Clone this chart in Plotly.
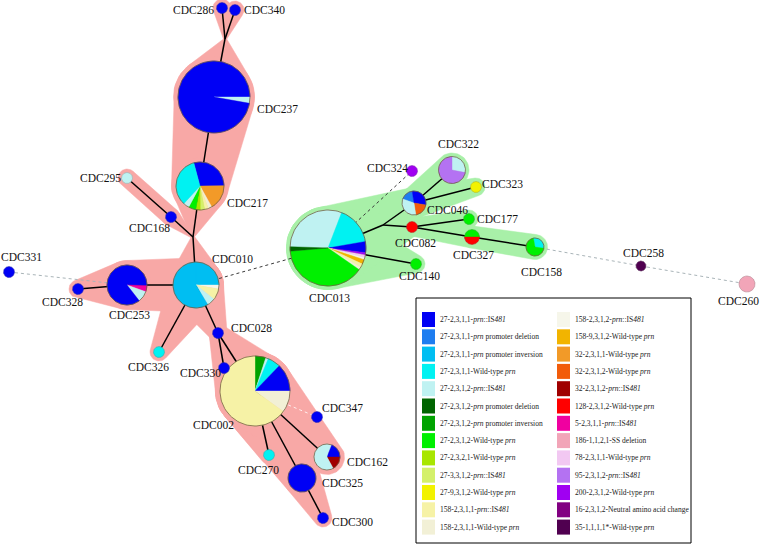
import math
import plotly.graph_objects as go

# ---------------- data ----------------
categories = [
    "27-2,3,1,1-<i>prn</i>::IS<i>481</i>",
    "27-2,3,1,1-<i>prn</i> promoter deletion",
    "27-2,3,1,1-<i>prn</i> promoter inversion",
    "27-2,3,1,1-Wild-type <i>prn</i>",
    "27-2,3,1,2-<i>prn</i>::IS<i>481</i>",
    "27-2,3,1,2-<i>prn</i> promoter deletion",
    "27-2,3,1,2-<i>prn</i> promoter inversion",
    "27-2,3,1,2-Wild-type <i>prn</i>",
    "27-2,3,2,1-Wild-type <i>prn</i>",
    "27-3,3,1,2-<i>prn</i>::IS<i>481</i>",
    "27-9,3,1,2-Wild-type <i>prn</i>",
    "158-2,3,1,1-<i>prn</i>::IS<i>481</i>",
    "158-2,3,1,1-Wild-type <i>prn</i>",
    "158-2,3,1,2-<i>prn</i>::IS<i>481</i>",
    "158-9,3,1,2-Wild-type <i>prn</i>",
    "32-2,3,1,1-Wild-type <i>prn</i>",
    "32-2,3,1,2-Wild-type <i>prn</i>",
    "32-2,3,1,2-<i>prn</i>::IS<i>481</i>",
    "128-2,3,1,2-Wild-type <i>prn</i>",
    "5-2,3,1,1-<i>prn</i>::IS<i>481</i>",
    "186-1,1,2,1-SS deletion",
    "78-2,3,1,1-Wild-type <i>prn</i>",
    "95-2,3,1,2-<i>prn</i>::IS<i>481</i>",
    "200-2,3,1,2-Wild-type <i>prn</i>",
    "16-2,3,1,2-Neutral amino acid change",
    "35-1,1,1,1*-Wild-type <i>prn</i>",
]

# node composition: (category index, share) clockwise from the start angle
node_comp = {
    "CDC286": [(0, 1.0)],
    "CDC340": [(0, 1.0)],
    "CDC237": [(0, 0.25), (4, 0.028), (0, 0.722)],
    "CDC217": [(0, 0.29), (15, 0.17), (12, 0.025), (11, 0.025), (9, 0.03),
               (8, 0.03), (7, 0.05), (4, 0.04), (3, 0.34)],
    "CDC295": [(4, 1.0)],
    "CDC168": [(0, 1.0)],
    "CDC010": [(2, 0.25), (13, 0.028), (11, 0.078), (4, 0.058), (2, 0.586)],
    "CDC331": [(0, 1.0)],
    "CDC328": [(0, 1.0)],
    "CDC253": [(0, 0.255), (19, 0.05), (4, 0.09), (0, 0.605)],
    "CDC326": [(3, 1.0)],
    "CDC028": [(0, 1.0)],
    "CDC330": [(0, 1.0)],
    "CDC002": [(6, 0.05), (4, 0.012), (3, 0.06), (0, 0.128), (12, 0.10), (11, 0.65)],
    "CDC347": [(0, 1.0)],
    "CDC162": [(4, 0.06), (0, 0.19), (17, 0.17), (4, 0.58)],
    "CDC270": [(3, 1.0)],
    "CDC325": [(0, 1.0)],
    "CDC300": [(0, 1.0)],
    "CDC013": [(4, 0.303), (3, 0.164), (0, 0.047), (23, 0.01), (21, 0.012),
               (13, 0.008), (14, 0.02), (11, 0.015), (12, 0.012), (7, 0.39), (5, 0.019)],
    "CDC324": [(23, 1.0)],
    "CDC322": [(4, 0.28), (22, 0.72)],
    "CDC323": [(10, 1.0)],
    "CDC046": [(1, 0.17), (0, 0.30), (16, 0.20), (4, 0.33)],
    "CDC082": [(18, 1.0)],
    "CDC177": [(7, 1.0)],
    "CDC327": [(7, 0.5), (18, 0.5)],
    "CDC158": [(3, 0.3), (7, 0.7)],
    "CDC140": [(7, 1.0)],
    "CDC258": [(25, 1.0)],
    "CDC260": [(20, 1.0)],
}

# tree edges
solid_edges = [
    ("J1", "CDC286"), ("J1", "CDC340"), ("J1", "CDC237"), ("CDC237", "CDC217"),
    ("CDC217", "J2"), ("CDC295", "CDC168"), ("CDC168", "J2"), ("J2", "CDC010"),
    ("CDC010", "CDC253"), ("CDC253", "CDC328"), ("CDC010", "CDC326"),
    ("CDC010", "CDC028"), ("CDC028", "CDC330"), ("CDC028", "CDC002"),
    ("CDC002", "CDC270"), ("CDC002", "CDC325"), ("CDC325", "CDC300"),
    ("CDC002", "CDC162"),
    ("CDC013", "J3"), ("J3", "CDC046"), ("CDC046", "CDC322"), ("CDC046", "CDC323"),
    ("J3", "CDC082"), ("CDC082", "CDC177"), ("CDC082", "CDC327"),
    ("CDC327", "CDC158"), ("CDC013", "CDC140"),
]
dark_dotted_edges = [("CDC010", "CDC013"), ("CDC013", "CDC324")]
light_dotted_edges = [("CDC331", "CDC253"), ("CDC158", "CDC258"), ("CDC258", "CDC260")]
faint_edges = [("CDC002", "CDC347")]

# cluster shading (pairs of nodes whose hull is filled)
pink_pairs = solid_edges[:18]
green_pairs = solid_edges[18:] + [("CDC013", "CDC046"), ("CDC013", "CDC082")]

# ---------------- layout of the tree (pixel space) ----------------
node_pos = {
    "CDC286": (222, 8, 5.5), "CDC340": (235, 10, 5.5), "CDC237": (214, 97, 36),
    "CDC217": (200, 186, 24), "CDC295": (127, 178, 5.5), "CDC168": (171, 217, 5.5),
    "CDC010": (196, 285, 23), "CDC331": (9, 272, 5.5), "CDC328": (78, 289, 5.5),
    "CDC253": (127, 285, 20), "CDC326": (159, 352, 5.5), "CDC028": (218, 333, 5.5),
    "CDC330": (224, 368, 5.5), "CDC002": (255, 391, 35), "CDC347": (317, 417, 5.5),
    "CDC162": (327, 457, 13), "CDC270": (269, 455, 5.5), "CDC325": (302, 478, 14),
    "CDC300": (323, 518, 5.5), "CDC013": (328, 248, 38), "CDC324": (412, 171, 5.5),
    "CDC322": (452, 170, 13.5), "CDC323": (476, 187, 5.5), "CDC046": (414, 203, 12),
    "CDC082": (412, 227, 5.5), "CDC177": (469, 219, 5.5), "CDC327": (472, 237, 7.5),
    "CDC158": (535, 247, 9), "CDC140": (416, 264, 5.5), "CDC258": (641, 266, 5),
    "CDC260": (747, 284, 8),
    "J1": (225, 39, 0), "J2": (193, 237, 0), "J3": (383, 225, 0),
}
start_angle = {"CDC217": -15, "CDC013": -88, "CDC046": -70, "CDC327": -90, "CDC158": -10}
hull_pad_junction = {"J1": 1.5, "J2": 1.5, "J3": 6}

label_pos = {
    "CDC286": (193, 10), "CDC340": (264, 10), "CDC237": (277, 109), "CDC217": (247, 203),
    "CDC295": (100, 178), "CDC168": (149, 228), "CDC331": (21, 257), "CDC328": (62, 302),
    "CDC253": (129, 315), "CDC010": (232, 259), "CDC326": (148, 367), "CDC028": (251, 328),
    "CDC330": (200, 373), "CDC002": (213, 425), "CDC347": (342, 408), "CDC162": (367, 462),
    "CDC270": (258, 470), "CDC325": (342, 483), "CDC300": (352, 522), "CDC013": (329, 298),
    "CDC324": (387, 168), "CDC322": (458, 144), "CDC323": (502, 184), "CDC046": (447, 210),
    "CDC082": (415, 243), "CDC177": (497, 219), "CDC327": (473, 255), "CDC158": (541, 272),
    "CDC140": (419, 276), "CDC258": (643, 253), "CDC260": (738, 301),
}

cat_colors = [
    "#0000F5", "#1E7DF0", "#00BEF2", "#00F2F2", "#BFF2F2", "#006400", "#00A300",
    "#00F000", "#A8E600", "#D4F06A", "#F2F200", "#F6F2A6", "#F2F0D6", "#F6F6EA",
    "#F2B400", "#F29A28", "#F25C0A", "#A00000", "#FF0000", "#F000A0", "#F2A5B8",
    "#F2C8F2", "#B472F2", "#A000F2", "#820082", "#500050",
]
PINK = "#F8A8A6"
GREEN = "#A8F0A8"
FONT = "Liberation Serif, Times New Roman, serif"

# ---------------- helpers ----------------
def circle_pts(cx, cy, r, n=60):
    return [(cx + r * math.cos(2 * math.pi * i / n), cy + r * math.sin(2 * math.pi * i / n))
            for i in range(n)]

def convex_hull(pts):
    pts = sorted(set(pts))
    def cross(o, a, b):
        return (a[0] - o[0]) * (b[1] - o[1]) - (a[1] - o[1]) * (b[0] - o[0])
    lower, upper = [], []
    for p in pts:
        while len(lower) >= 2 and cross(lower[-2], lower[-1], p) <= 0:
            lower.pop()
        lower.append(p)
    for p in reversed(pts):
        while len(upper) >= 2 and cross(upper[-2], upper[-1], p) <= 0:
            upper.pop()
        upper.append(p)
    return lower[:-1] + upper[:-1]

def hull_radius(n, big_pad):
    if n in hull_pad_junction:
        return hull_pad_junction[n]
    r = node_pos[n][2]
    return r + big_pad if r > 8 else r + 3.5

fig = go.Figure()

# hulls
for group, col, pad in ((pink_pairs, PINK, 4.5), (green_pairs, GREEN, 3.5)):
    for a, b in group:
        ax, ay, _ = node_pos[a]
        bx, by, _ = node_pos[b]
        pts = (circle_pts(ax, ay, hull_radius(a, pad)) +
               circle_pts(bx, by, hull_radius(b, pad)))
        h = convex_hull(pts)
        xs = [p[0] for p in h] + [h[0][0]]
        ys = [p[1] for p in h] + [h[0][1]]
        fig.add_trace(go.Scatter(x=xs, y=ys, mode="lines", fill="toself", fillcolor=col,
                                 line=dict(color=col, width=0.5), hoverinfo="skip"))

def add_edges(edges, color, width, dash):
    xs, ys = [], []
    for a, b in edges:
        xs += [node_pos[a][0], node_pos[b][0], None]
        ys += [node_pos[a][1], node_pos[b][1], None]
    fig.add_trace(go.Scatter(x=xs, y=ys, mode="lines", hoverinfo="skip",
                             line=dict(color=color, width=width, dash=dash)))

add_edges(light_dotted_edges, "#A9B4B8", 1, "dot")
add_edges(faint_edges, "rgba(255,255,255,0.8)", 1, "dot")
add_edges(dark_dotted_edges, "#3A3A3A", 1, "dot")
add_edges(solid_edges, "#000000", 1.5, "solid")

# pies (largest first so small nodes sit on top)
order = sorted(node_comp.keys(), key=lambda n: -node_pos[n][2])
for name in order:
    cx, cy, r = node_pos[name]
    ang = start_angle.get(name, 0)
    comp = node_comp[name]
    for cat, share in comp:
        sweep = share * 360
        if share >= 0.999:
            pts = [(cx + r * math.sin(math.radians(a)), cy - r * math.cos(math.radians(a)))
                   for a in range(0, 361, 4)]
        else:
            steps = max(2, int(math.ceil(sweep / 2)))
            pts = [(cx, cy)]
            for i in range(steps + 1):
                a = math.radians(ang + sweep * i / steps)
                pts.append((cx + r * math.sin(a), cy - r * math.cos(a)))
            pts.append((cx, cy))
        ang += sweep
        col = cat_colors[cat]
        fig.add_trace(go.Scatter(x=[p[0] for p in pts], y=[p[1] for p in pts], mode="lines",
                                 fill="toself", fillcolor=col,
                                 line=dict(color=col, width=0.4), hoverinfo="skip"))
    oc = "rgba(110,90,60,0.75)" if r > 8 else "rgba(90,90,90,0.35)"
    pts = [(cx + r * math.sin(math.radians(a)), cy - r * math.cos(math.radians(a)))
           for a in range(0, 361, 3)]
    fig.add_trace(go.Scatter(x=[p[0] for p in pts], y=[p[1] for p in pts], mode="lines",
                             line=dict(color=oc, width=1 if r > 8 else 0.7), hoverinfo="skip"))

annotations = []
for name, (lx, ly) in label_pos.items():
    annotations.append(dict(x=lx, y=ly, text=name, showarrow=False, xanchor="center",
                            yanchor="middle", font=dict(family=FONT, size=11.5, color="#111111")))

# legend box built from the category list
shapes = []
box = dict(x0=416, y0=298, x1=691, y1=543)
shapes.append(dict(type="rect", xref="x", yref="y", layer="above", **box,
                   line=dict(color="#000000", width=1), fillcolor="rgba(255,255,255,0)"))
rows = 13
for i, (lab, col) in enumerate(zip(categories, cat_colors)):
    c, rr = divmod(i, rows)
    sx = 422 + c * 135
    sy = 312 + rr * 17.3
    shapes.append(dict(type="rect", xref="x", yref="y", layer="above",
                       x0=sx, x1=sx + 13, y0=sy, y1=sy + 15,
                       line=dict(width=0), fillcolor=col))
    annotations.append(dict(x=sx + 16, y=sy + 7.5, text=lab, showarrow=False,
                            xanchor="left", yanchor="middle",
                            font=dict(family=FONT, size=7.5, color="#222222")))

fig.update_layout(
    width=760, height=550, margin=dict(l=0, r=0, t=0, b=0),
    paper_bgcolor="white", plot_bgcolor="white", showlegend=False, hovermode=False,
    xaxis=dict(range=[0, 760], visible=False, fixedrange=True),
    yaxis=dict(range=[550, 0], visible=False, fixedrange=True),
    annotations=annotations, shapes=shapes,
)
# remove the default 8px page margin so the figure sits at the window's corner
fig.write_html("out.html", config={"displayModeBar": False, "staticPlot": True},
               post_script="document.body.style.margin='0px';")
